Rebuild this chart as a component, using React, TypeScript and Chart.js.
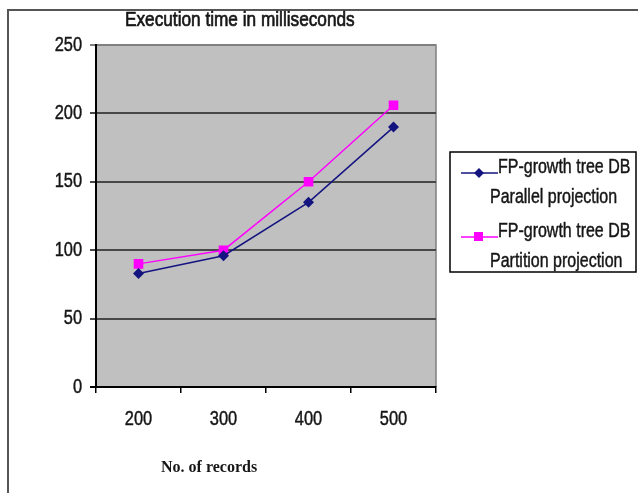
import React, { useEffect, useRef } from 'react';
import { Chart, registerables } from 'chart.js';

Chart.register(...registerables);

const categories = ['200', '300', '400', '500'];
const parallelProjection = [83, 96, 135, 190];
const partitionProjection = [90, 100, 150, 206];
const yTickValues = [0, 50, 100, 150, 200, 250];
const parallelLabel = ['FP-growth tree DB', 'Parallel projection'];
const partitionLabel = ['FP-growth tree DB', 'Partition projection'];
const chartTitle = 'Execution time in milliseconds';
const xAxisTitle = 'No. of records';

const SANS = '"Liberation Sans", Arial, sans-serif';
const NARROW_SCALE = 0.82;
const NAVY = '#141480';
const MAGENTA = '#ff00ff';
const TEXT = '#161616';

function narrowText(ctx: CanvasRenderingContext2D, text: string, x: number, y: number, size: number, align: CanvasTextAlign, baseline: CanvasTextBaseline = 'alphabetic', weight = 0.45) {
  ctx.save();
  ctx.font = `${size}px ${SANS}`;
  ctx.fillStyle = TEXT;
  ctx.strokeStyle = TEXT;
  ctx.lineWidth = weight;
  ctx.textAlign = align;
  ctx.textBaseline = baseline;
  ctx.translate(x, y);
  ctx.scale(NARROW_SCALE, 1);
  ctx.fillText(text, 0, 0);
  if (weight > 0) ctx.strokeText(text, 0, 0);
  ctx.restore();
}

const decorPlugin = {
  id: 'decor',
  beforeDraw(chart: any) {
    const { ctx, chartArea: a } = chart;
    ctx.save();
    ctx.fillStyle = '#ffffff';
    ctx.fillRect(0, 0, chart.width, chart.height);
    ctx.strokeStyle = '#555555';
    ctx.lineWidth = 2;
    ctx.beginPath();
    ctx.moveTo(8, chart.height);
    ctx.lineTo(8, 10);
    ctx.lineTo(chart.width, 10);
    ctx.stroke();
    ctx.fillStyle = '#c0c0c0';
    ctx.fillRect(a.left, a.top, a.right - a.left, a.bottom - a.top);
    ctx.strokeStyle = '#808080';
    ctx.lineWidth = 1.5;
    ctx.beginPath();
    ctx.moveTo(a.left, a.top);
    ctx.lineTo(a.right, a.top);
    ctx.lineTo(a.right, a.bottom);
    ctx.stroke();
    ctx.restore();
  },
  afterDraw(chart: any) {
    const { ctx } = chart;
    const xs = chart.scales.x;
    const ys = chart.scales.y;
    ys.ticks.forEach((t: any, i: number) => {
      narrowText(ctx, String(t.value), 82, ys.getPixelForTick(i), 20, 'right', 'middle');
    });
    xs.ticks.forEach((t: any, i: number) => {
      narrowText(ctx, String(categories[i]), xs.getPixelForTick(i), 425, 20, 'center');
    });
    narrowText(ctx, chartTitle, 125, 26, 21, 'left', 'alphabetic', 0.7);
    ctx.save();
    ctx.fillStyle = TEXT;
    ctx.textAlign = 'left';
    ctx.textBaseline = 'alphabetic';
    ctx.font = 'bold 16px "Liberation Serif", "Times New Roman", serif';
    ctx.fillText(xAxisTitle, 161, 472);

    ctx.strokeStyle = '#000000';
    ctx.lineWidth = 1.5;
    ctx.strokeRect(450, 152, 186, 120);
    const entries = [
      { label: parallelLabel, color: NAVY, style: 'diamond', y: 173 },
      { label: partitionLabel, color: MAGENTA, style: 'square', y: 237 },
    ];
    for (const e of entries) {
      ctx.strokeStyle = e.color;
      ctx.lineWidth = 1.5;
      ctx.beginPath();
      ctx.moveTo(461, e.y);
      ctx.lineTo(498, e.y);
      ctx.stroke();
      ctx.fillStyle = e.color;
      if (e.style === 'diamond') {
        ctx.beginPath();
        ctx.moveTo(479, e.y - 5);
        ctx.lineTo(484, e.y);
        ctx.lineTo(479, e.y + 5);
        ctx.lineTo(474, e.y);
        ctx.closePath();
        ctx.fill();
      } else {
        ctx.fillRect(474, e.y - 5, 9, 9);
      }
      narrowText(ctx, e.label[0], 498, e.y, 19.5, 'left');
      narrowText(ctx, e.label[1], 490, e.y + 30, 19.5, 'left');
    }
    ctx.restore();
  },
};

export default function App() {
  const ref = useRef<HTMLCanvasElement>(null);
  useEffect(() => {
    document.body.style.margin = '0';
    const chart = new Chart(ref.current!, {
      type: 'line',
      data: {
        labels: categories,
        datasets: [
          {
            label: parallelLabel.join(' '),
            data: parallelProjection,
            borderColor: NAVY,
            backgroundColor: NAVY,
            borderWidth: 1.5,
            pointStyle: 'rectRot',
            pointRadius: 5.5,
            pointBorderWidth: 0,
            tension: 0,
          },
          {
            label: partitionLabel.join(' '),
            data: partitionProjection,
            borderColor: MAGENTA,
            backgroundColor: MAGENTA,
            borderWidth: 1.5,
            pointStyle: 'rect',
            pointRadius: 6.8,
            pointBorderWidth: 0,
            tension: 0,
          },
        ],
      },
      options: {
        responsive: false,
        animation: false,
        devicePixelRatio: 1,
        layout: { padding: { left: 0, right: 202, top: 45, bottom: 0 } },
        plugins: { legend: { display: false }, title: { display: false }, tooltip: { enabled: false } },
        scales: {
          x: {
            type: 'category',
            offset: true,
            afterFit: (s: any) => { s.height = 106; },
            grid: { display: true, drawOnChartArea: false, drawTicks: true, tickLength: 6, offset: true, color: '#000000', lineWidth: 1.5 },
            border: { display: true, color: '#000000', width: 2 },
            ticks: { color: 'rgba(0,0,0,0)', font: { family: SANS, size: 17 }, padding: 11, maxRotation: 0 },
          },
          y: {
            min: 0,
            max: 250,
            afterFit: (s: any) => { s.width = 96; },
            afterBuildTicks: (s: any) => { s.ticks = yTickValues.map((v) => ({ value: v })); },
            grid: {
              drawTicks: true,
              tickLength: 6,
              color: (c: any) => (c.tick && c.tick.value === 250 ? '#808080' : c.tick && c.tick.value === 0 ? '#000000' : '#484848'),
              lineWidth: 2,
            },
            border: { display: true, color: '#000000', width: 2 },
            ticks: { color: 'rgba(0,0,0,0)', font: { family: SANS, size: 17 }, padding: 8 },
          },
        },
      },
      plugins: [decorPlugin],
    });
    return () => chart.destroy();
  }, []);
  return (
    <div style={{ position: 'absolute', left: 0, top: 0, width: 638, height: 493 }}>
      <canvas ref={ref} width={638} height={493} style={{ display: 'block' }} />
    </div>
  );
}
